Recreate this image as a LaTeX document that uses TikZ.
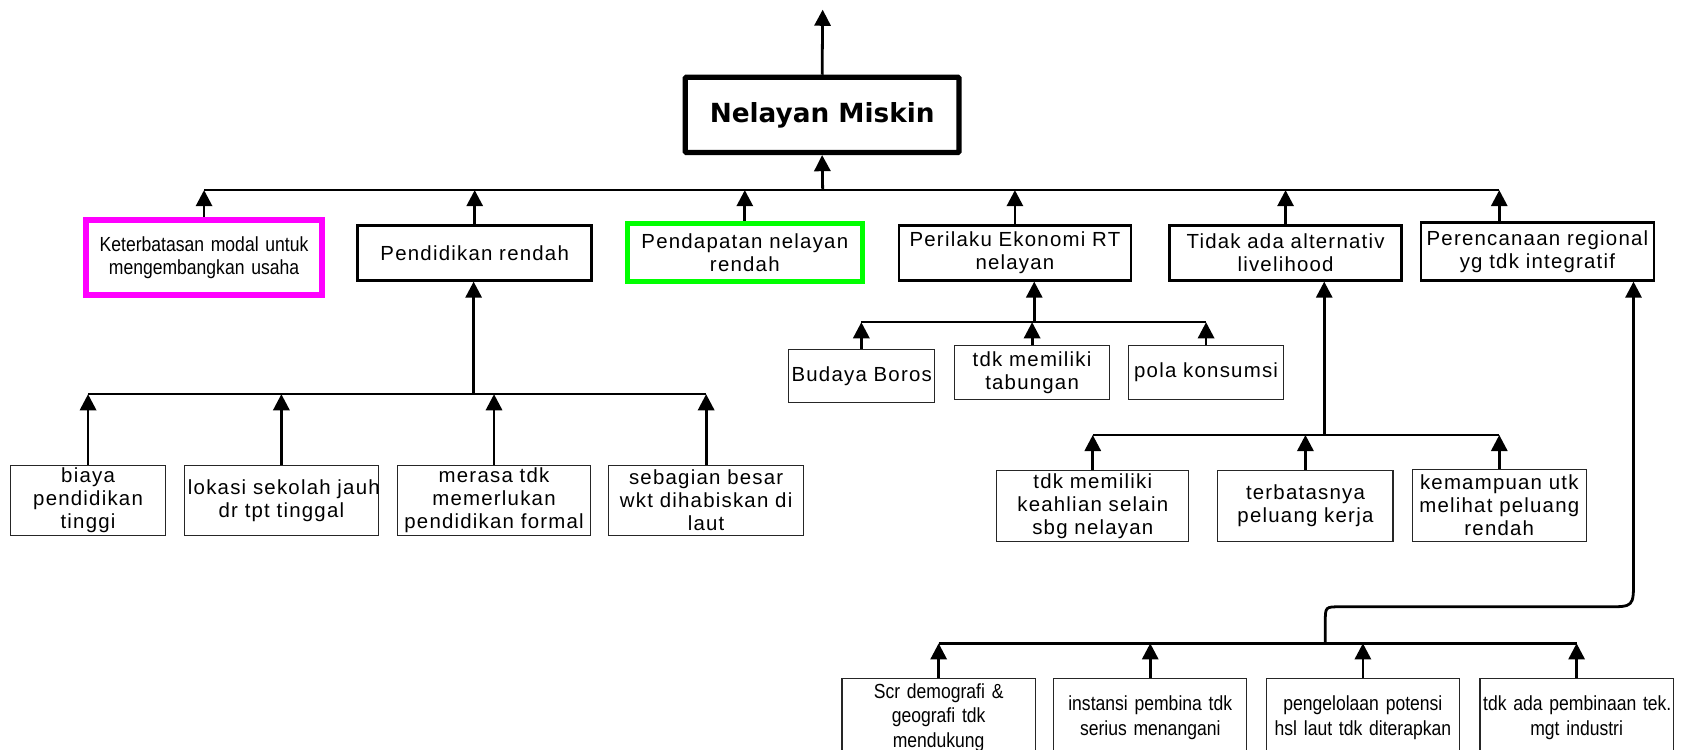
\documentclass[tikz,border=0pt]{standalone}
\usepackage{fontspec}
\setmainfont{Liberation Sans}
\newfontfamily\spf[LetterSpace=6]{Liberation Sans}
\newfontfamily\nrf[FakeStretch=0.86]{Liberation Sans}
\newfontfamily\ttlf{DejaVu Sans}
\usetikzlibrary{arrows.meta}
\definecolor{mag}{RGB}{255,0,255}
\definecolor{grn}{RGB}{0,255,0}
\newcommand\lx[1]{\mbox{#1}}
\tikzset{
  box/.style={draw=black!85, line width=1pt, inner sep=2pt, align=center, fill=white,
              font=\spf\fontsize{19}{21.5}\selectfont},
  narrowbox/.style={box, font=\nrf\fontsize{19}{23}\selectfont},
  lvlone/.style={box, draw=black, line width=2.4pt},
  mainbox/.style={draw=black, line width=4.8pt, rounded corners=1pt, inner sep=0pt, align=center,
              font=\ttlf\bfseries\fontsize{24.5}{28}\selectfont},
  arr/.style={line width=2.6pt, -{Triangle[width=15pt,length=15pt]}},
  busline/.style={line width=2.4pt},
}
\begin{document}
\begin{tikzpicture}[x=1pt,y=-1pt]
\useasboundingbox (0,0) rectangle (1568,698);
\begin{scope}
\clip (0,0) rectangle (1568,698);
% main
\node[mainbox, minimum width=255pt, minimum height=70pt] (main) at (765.5,107) {Nelayan Miskin};
% level 1
\node[lvlone, draw=mag, line width=5.5pt, font=\nrf\fontsize{19}{22}\selectfont, minimum width=220pt, text width=212pt, minimum height=70pt] (k1) at (190,240) {\lx{Keterbatasan modal untuk}\\\lx{mengembangkan usaha}};
\node[lvlone, minimum width=218pt, text width=212pt, minimum height=51pt] (k2) at (442,235.5) {\lx{Pendidikan rendah}};
\node[lvlone, draw=grn, line width=5pt, minimum width=219pt, text width=212pt, minimum height=54pt] (k3) at (693.5,235) {\lx{Pendapatan nelayan}\\rendah};
\node[lvlone, minimum width=216pt, text width=210pt, minimum height=51pt] (k4) at (945,235.5) {\lx{Perilaku Ekonomi RT}\\nelayan};
\node[lvlone, minimum width=216pt, text width=210pt, minimum height=51pt] (k5) at (1197,235.5) {\lx{Tidak ada alternativ}\\livelihood};
\node[lvlone, minimum width=217pt, text width=211pt, minimum height=54pt] (k6) at (1431.5,234) {\lx{Perencanaan regional}\\\lx{yg tdk integratif}};
% Pendidikan subtree
\node[box, minimum width=144pt, text width=138pt, minimum height=66pt] (b1) at (82,466) {biaya\\pendidikan\\tinggi};
\node[box, minimum width=180pt, text width=174pt, minimum height=66pt] (b2) at (262,466) {\lx{lokasi sekolah jauh}\\\lx{dr tpt tinggal}};
\node[box, minimum width=180pt, text width=174pt, minimum height=66pt] (b3) at (460,466) {\lx{merasa tdk}\\memerlukan\\\lx{pendidikan formal}};
\node[box, minimum width=181pt, text width=175pt, minimum height=66pt] (b4) at (657.5,466) {\lx{sebagian besar}\\\lx{wkt dihabiskan di}\\laut};
% Perilaku subtree
\node[box, minimum width=136pt, text width=130pt, minimum height=50pt] (c1) at (802,350) {\lx{Budaya Boros}};
\node[box, minimum width=144pt, text width=138pt, minimum height=50pt] (c2) at (961,347) {\lx{tdk memiliki}\\tabungan};
\node[box, minimum width=144pt, text width=138pt, minimum height=50pt] (c3) at (1123,347) {\lx{pola konsumsi}};
% Tidak ada subtree
\node[box, minimum width=179pt, text width=173pt, minimum height=66pt] (d1) at (1017.5,471) {\lx{tdk memiliki}\\\lx{keahlian selain}\\\lx{sbg nelayan}};
\node[box, minimum width=163pt, text width=157pt, minimum height=66pt] (d2) at (1215.5,471) {terbatasnya\\\lx{peluang kerja}};
\node[box, minimum width=162pt, text width=156pt, minimum height=67pt] (d3) at (1396,470.5) {\lx{kemampuan utk}\\\lx{melihat peluang}\\rendah};
% Perencanaan subtree
\node[narrowbox, minimum width=180pt, text width=174pt, minimum height=72pt] (e1) at (874,668) {\lx{Scr demografi \&}\\\lx{geografi tdk}\\mendukung};
\node[narrowbox, minimum width=180pt, text width=174pt, minimum height=72pt] (e2) at (1071,668) {\lx{instansi pembina tdk}\\\lx{serius menangani}};
\node[narrowbox, minimum width=180pt, text width=174pt, minimum height=72pt] (e3) at (1269,668) {\lx{pengelolaan potensi}\\\lx{hsl laut tdk diterapkan}};
\node[narrowbox, minimum width=180pt, text width=174pt, minimum height=72pt] (e4) at (1468,668) {\lx{tdk ada pembinaan tek.}\\\lx{mgt industri}};

% coordinates
\coordinate (topend) at (766,9);
\coordinate (busA) at (766,177);
\coordinate (k6up) at (1396,177);
\coordinate (busB) at (441,367);
\coordinate (busC) at (963,300);
\coordinate (busD) at (1233,405);
\coordinate (busE) at (1234,599);
\coordinate (q1) at (1234,579);
\coordinate (q2) at (1234,565);
\coordinate (q3) at (1248,565);
\coordinate (q4) at (1496,565);
\coordinate (q5) at (1521,565);
\coordinate (q6) at (1521,540);

% top connectors
\draw[arr] (main.north) -- (topend);
\draw[arr] (busA) -- (main.south);
\draw[busline] (k1.north |- busA) -- (k6up);
\draw[arr] (k1.north) -- (k1.north |- busA);
\draw[arr] (k2.north) -- (k2.north |- busA);
\draw[arr] (k3.north) -- (k3.north |- busA);
\draw[arr] (k4.north) -- (k4.north |- busA);
\draw[arr] (k5.north) -- (k5.north |- busA);
\draw[arr] (k6up |- k6.north) -- (k6up);

% Pendidikan
\draw[arr] (busB) -- (busB |- k2.south);
\draw[busline] (b1.north |- busB) -- (b4.north |- busB);
\draw[arr] (b1.north) -- (b1.north |- busB);
\draw[arr] (b2.north) -- (b2.north |- busB);
\draw[arr] (b3.north) -- (b3.north |- busB);
\draw[arr] (b4.north) -- (b4.north |- busB);

% Perilaku
\draw[arr] (busC) -- (busC |- k4.south);
\draw[busline] (c1.north |- busC) -- (c3.north |- busC);
\draw[arr] (c1.north) -- (c1.north |- busC);
\draw[arr] (c2.north) -- (c2.north |- busC);
\draw[arr] (c3.north) -- (c3.north |- busC);

% Tidak ada
\draw[arr] (busD) -- (busD |- k5.south);
\draw[busline] (d1.north |- busD) -- (d3.north |- busD);
\draw[arr] (d1.north) -- (d1.north |- busD);
\draw[arr] (d2.north) -- (d2.north |- busD);
\draw[arr] (d3.north) -- (d3.north |- busD);

% Perencanaan
\draw[arr] (busE) -- (q1) .. controls (q2) .. (q3) -- (q4) .. controls (q5) .. (q6) -- (q6 |- k6.south);
\draw[busline] (e1.north |- busE) -- (e4.north |- busE);
\draw[arr] (e1.north) -- (e1.north |- busE);
\draw[arr] (e2.north) -- (e2.north |- busE);
\draw[arr] (e3.north) -- (e3.north |- busE);
\draw[arr] (e4.north) -- (e4.north |- busE);
\end{scope}
\end{tikzpicture}
\end{document}
